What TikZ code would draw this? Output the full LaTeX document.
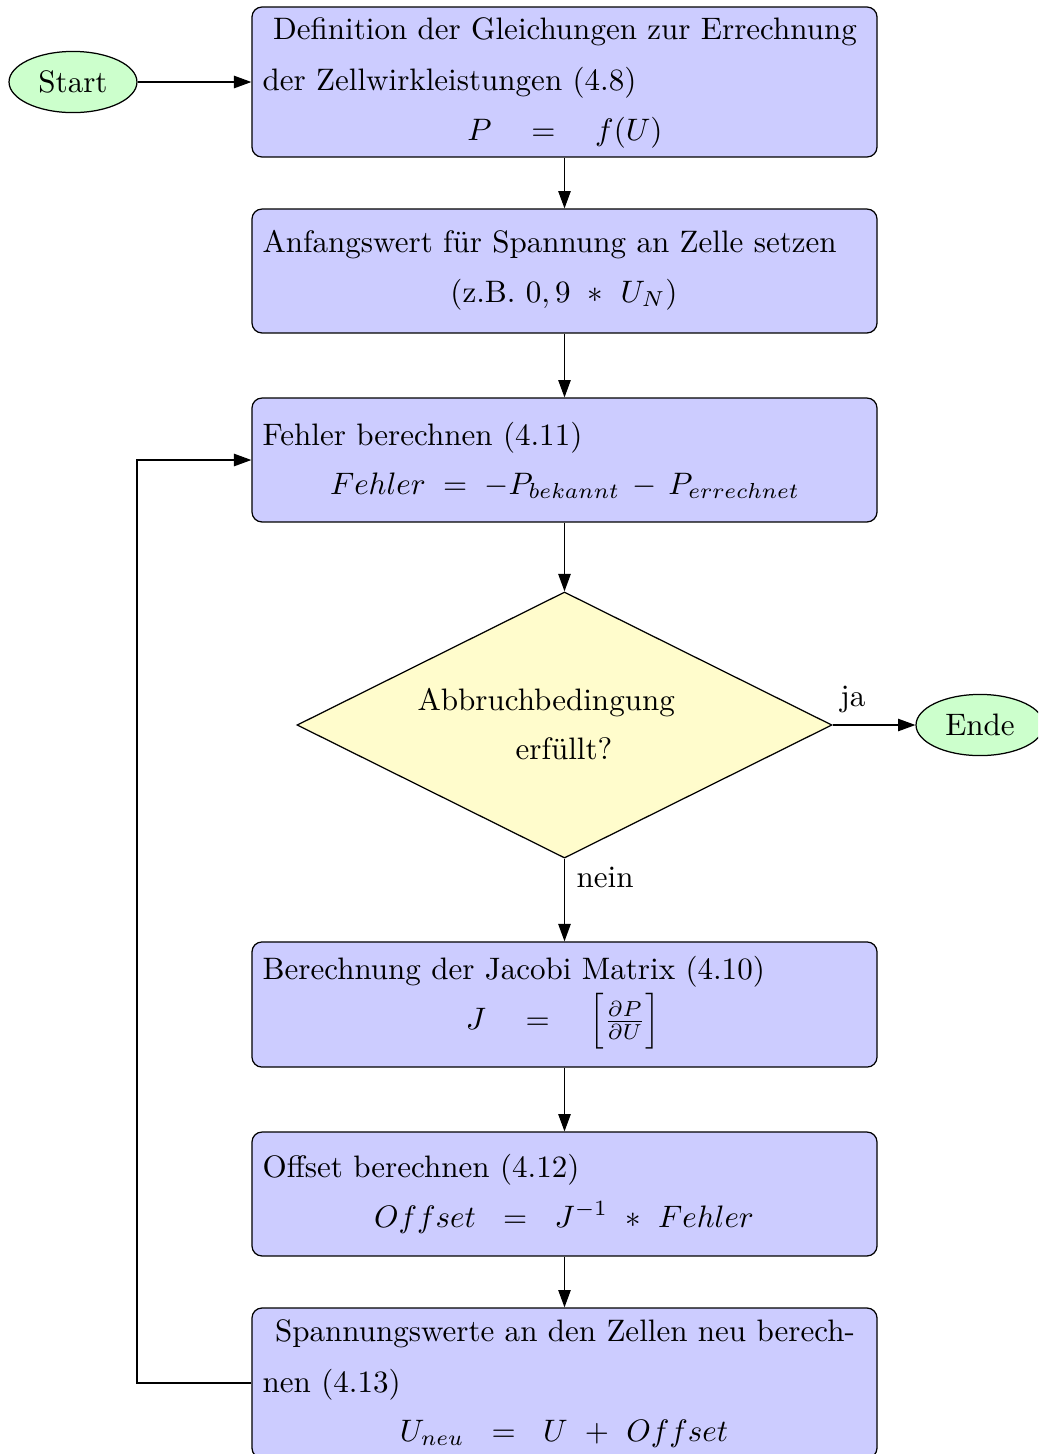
\documentclass[tikz,border=0pt]{standalone}
\usepackage{amsmath}
\usetikzlibrary{shapes.geometric,arrows.meta}
\begin{document}
\begin{tikzpicture}[x=0.32206pt,y=-0.32206pt,
  stepbox/.style={draw,rounded corners=3.2pt,fill=blue!20,minimum width=201.3pt,inner sep=0pt},
  term/.style={draw,ellipse,fill=green!20,minimum width=41.2pt,minimum height=19.7pt,inner sep=0pt},
  decision/.style={draw,diamond,fill=yellow!20,minimum width=172.3pt,minimum height=85.7pt,inner sep=0pt},
  txt/.style={inner sep=0pt},
  flow/.style={-{Triangle[length=5.6pt,width=4pt]}},
]
\useasboundingbox (0,0) rectangle (1038,1454);
\clip (0,0) rectangle (1038,1454);

% terminals
\node[term] (start) at (73,82) {Start};
\node[term] (ende) at (980,725) {Ende};

% process boxes
\node[stepbox,minimum height=48.3pt] (b1) at (564.5,82) {};
\node[stepbox,minimum height=39.9pt] (b2) at (564.5,271) {};
\node[stepbox,minimum height=39.9pt] (b3) at (564.5,460) {};
\node[decision] (d) at (564.5,725) {};
\node[stepbox,minimum height=40.3pt] (b4) at (564.5,1004.5) {};
\node[stepbox,minimum height=39.9pt] (b5) at (564.5,1194) {};
\node[stepbox,minimum height=48.3pt] (b6) at (564.5,1383) {};

% box texts
\node[txt,anchor=base] (t1a) at (565,39) {Definition der Gleichungen zur Errechnung};
\node[txt,anchor=base west] (t1b) at (262,90) {der Zellwirkleistungen (4.8)};
\node[txt,anchor=base] (t1c) at (565,140) {$P\hspace{10pt}{}={}\hspace{10pt}f(U)$};

\node[txt,anchor=base west] (t2a) at (262,252) {Anfangswert für Spannung an Zelle setzen};
\node[txt,anchor=base] (t2b) at (564,302) {(z.B.\ $0,9\ \ast\ U_N$)};

\node[txt,anchor=base west] (t3a) at (262,445) {Fehler berechnen (4.11)};
\node[txt,anchor=base] (t3b) at (565,494) {$Fehler\;=\;-P_{bekannt}\,-\,P_{errechnet}$};

\node[txt,anchor=base west] (tda) at (417,710) {Abbruchbedingung};
\node[txt,anchor=base] (tdb) at (564,759) {erfüllt?};

\node[txt,anchor=base west] (t4a) at (262,979) {Berechnung der Jacobi Matrix (4.10)};
\node[txt,anchor=base] (t4b) at (563,1029) {$J\hspace{10pt}{}={}\hspace{10pt}\Big[\tfrac{\partial P}{\partial U}\Big]$};

\node[txt,anchor=base west] (t5a) at (262,1177) {Offset berechnen (4.12)};
\node[txt,anchor=base] (t5b) at (564,1227) {$Offset\hspace{6pt}=\hspace{6pt}J^{-1}\ \ast\ Fehler$};

\node[txt,anchor=base] (t6a) at (565,1341) {Spannungswerte an den Zellen neu berech-};
\node[txt,anchor=base west] (t6b) at (262,1392) {nen (4.13)};
\node[txt,anchor=base] (t6c) at (564,1441) {$U_{neu}\hspace{6pt}=\hspace{6pt}U\ +\ Offset$};

% connectors
\draw[flow] (start) -- (b1);
\draw[flow] (b1) -- (b2);
\draw[flow] (b2) -- (b3);
\draw[flow] (b3) -- (d);
\draw[flow] (d.east) -- (ende.west);
\draw[flow] (d.south) -- (b4.north);
\draw[flow] (b4) -- (b5);
\draw[flow] (b5) -- (b6);
\coordinate (loopx) at (137,0);
\draw[flow] (b6.west) -- (b6.west -| loopx) |- (b3.west);

% branch labels
\node[txt,anchor=base] (lja) at (853,706) {ja};
\node[txt,anchor=base west] (lnein) at (576,887) {nein};
\end{tikzpicture}
\end{document}
